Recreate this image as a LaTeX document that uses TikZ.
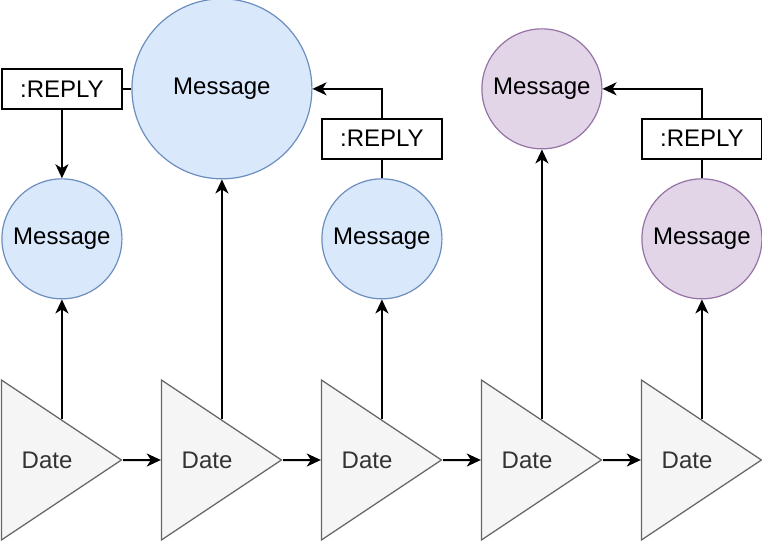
\documentclass[tikz,border=0pt]{standalone}
\usepackage{fontspec}
\setmainfont{Liberation Sans}
\usetikzlibrary{shapes.geometric,arrows.meta,positioning}
\definecolor{msgblue}{HTML}{DAE8FC}
\definecolor{msgblueline}{HTML}{6C8EBF}
\definecolor{msgpurple}{HTML}{E1D5E7}
\definecolor{msgpurpleline}{HTML}{9673A6}
\definecolor{datefill}{HTML}{F5F5F5}
\definecolor{dateline}{HTML}{666666}
\definecolor{datetext}{HTML}{333333}

\begin{document}
\begin{tikzpicture}[
    x=0.5pt, y=-0.5pt,
    font=\fontsize{12pt}{14pt}\selectfont,
    >={Stealth[length=7pt,width=6.5pt,inset=2pt]},
    msg_node/.style={draw=msgblueline, fill=msgblue, circle, minimum size=60pt, inner sep=0pt, line width=0.6pt},
    msg_purple/.style={msg_node, draw=msgpurpleline, fill=msgpurple},
    date_node/.style={draw=dateline, fill=datefill, text=datetext, isosceles triangle, isosceles triangle stretches, shape border rotate=0, minimum width=80pt, minimum height=60pt, inner sep=0pt, line width=0.6pt, anchor=apex},
    reply_node/.style={draw=black, fill=white, rectangle, minimum width=60pt, minimum height=20pt, inner sep=0pt, line width=1pt},
    link/.style={->, line width=1pt}
]
\useasboundingbox (0,0) rectangle (762,542);

% timeline of dates
\node[date_node] (d1) at (123,460) {Date};
\node[date_node] (d2) at (283,460) {Date};
\node[date_node] (d3) at (443,460) {Date};
\node[date_node] (d4) at (603,460) {Date};
\node[date_node] (d5) at (763,460) {Date};

% messages
\node[msg_node, above=60pt of d1.left side] (m1) {Message};
\node[msg_node, minimum size=90pt, above=120pt of d2.left side] (m2) {Message};
\node[msg_node, above=60pt of d3.left side] (m3) {Message};
\node[msg_purple, above=135pt of d4.left side] (m4) {Message};
\node[msg_purple, above=60pt of d5.left side] (m5) {Message};

\draw[link] (d1) -- (d2);
\draw[link] (d2) -- (d3);
\draw[link] (d3) -- (d4);
\draw[link] (d4) -- (d5);

\draw[link] (d1.left side) -- (m1);
\draw[link] (d2.left side) -- (m2);
\draw[link] (d3.left side) -- (m3);
\draw[link] (d4.left side) -- (m4);
\draw[link] (d5.left side) -- (m5);

% replies
\draw[link] (m2.west) -| node[reply_node, pos=0.5] (r1) {:REPLY} (m1.north);
\draw[link] (m3.north) |- node[reply_node, pos=0.222] (r2) {:REPLY} (m2.east);
\draw[link] (m5.north) |- node[reply_node, pos=0.222] (r3) {:REPLY} (m4.east);

\end{tikzpicture}
\end{document}
